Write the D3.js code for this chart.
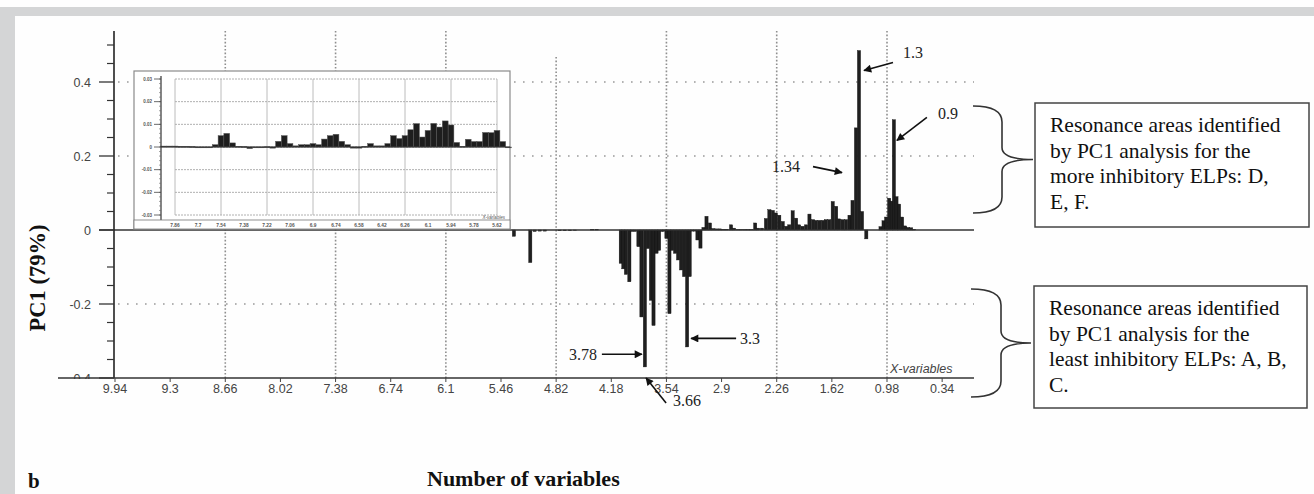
<!DOCTYPE html>
<html>
<head>
<meta charset="utf-8">
<script src="https://cdn.jsdelivr.net/npm/d3@7"></script>
<style>
  body { margin: 0; background: #fff; }
  .sans { font-family: "Liberation Sans", Arial, sans-serif; }
  .serif { font-family: "Liberation Serif", "Times New Roman", serif; }
</style>
</head>
<body>
<svg width="1314" height="494"></svg>
<script>
// ---- data ----
const xTickValues = [9.94, 9.3, 8.66, 8.02, 7.38, 6.74, 6.1, 5.46, 4.82, 4.18, 3.54, 2.9, 2.26, 1.62, 0.98, 0.34];
const xGridValues = [8.66, 7.38, 6.1, 4.82, 3.54, 2.26, 0.98];
const yTickValues = [0.4, 0.2, 0, -0.2, -0.4];
const yGridValues = [0.4, 0.2, -0.2];

// main loadings (chemical shift in ppm, PC1 loading)
const mainShift = [
  5.31, 5.12, 5.07, 5.01, 4.95, 4.78, 4.72, 4.66, 4.60, 4.40, 4.35,
  4.07, 4.04, 4.01, 3.97, 3.94, 3.905, 3.865, 3.83, 3.79, 3.755,
  3.72, 3.69, 3.655, 3.625, 3.59, 3.565, 3.54, 3.505, 3.475, 3.44,
  3.405, 3.37, 3.335, 3.30, 3.27, 3.24, 3.21, 3.18, 3.145,
  3.11, 3.075, 3.035, 2.995, 2.955, 2.92, 2.88, 2.84, 2.79, 2.755,
  2.715, 2.675, 2.635, 2.595, 2.555, 2.51, 2.475, 2.43, 2.385, 2.345,
  2.305, 2.27, 2.23, 2.19, 2.15, 2.115, 2.075, 2.035, 2.0, 1.96,
  1.92, 1.88, 1.84, 1.805, 1.765, 1.725, 1.69, 1.65, 1.61, 1.57,
  1.535, 1.495, 1.455, 1.415, 1.38, 1.34, 1.305, 1.27, 1.22,
  1.055, 1.02, 0.99, 0.955, 0.925, 0.90, 0.87, 0.84, 0.805, 0.77,
  0.735, 0.70, 0.665
];
const mainLoading = [
  -0.017, -0.088, -0.004, -0.003, -0.003, -0.002, -0.002, -0.002, -0.001, 0.002, 0.002,
  -0.09, -0.105, -0.12, -0.14, -0.004, -0.004, -0.045, -0.235, -0.37, -0.05,
  -0.19, -0.258, -0.063, -0.055, -0.004, -0.003, -0.023, -0.226, -0.055, -0.063,
  -0.081, -0.108, -0.126, -0.316, -0.126, -0.003, -0.003, -0.027, -0.049,
  0.007, 0.037, 0.019, 0.004, 0.003, 0.003, 0.002, 0.002, 0.014, 0.005,
  0.001, 0.001, 0.001, 0.001, 0.001, 0.019, 0.005, 0.005, 0.031, 0.055,
  0.053, 0.046, 0.04, 0.023, 0.01, 0.014, 0.052, 0.032, 0.014, 0.01,
  0.014, 0.043, 0.028, 0.026, 0.026, 0.026, 0.028, 0.028, 0.077, 0.064,
  0.03, 0.028, 0.028, 0.04, 0.08, 0.276, 0.485, 0.05, -0.024,
  0.009, 0.025, 0.035, 0.086, 0.078, 0.298, 0.09, 0.07, 0.035, 0.011,
  0.007, 0.006, 0.002
];

// inset (zoom on 7.9 - 5.5 ppm)
const insetTickValues = [7.86, 7.7, 7.54, 7.38, 7.22, 7.06, 6.9, 6.74, 6.58, 6.42, 6.26, 6.1, 5.94, 5.78, 5.62];
const insetGridValues = [7.86, 7.54, 7.22, 6.9, 6.58, 6.26, 5.94, 5.62];
const insetYTicks = [0.03, 0.02, 0.01, 0, -0.01, -0.02, -0.03];
const insetShift = [
  7.94, 7.90, 7.86, 7.82, 7.78, 7.74, 7.70, 7.66, 7.62, 7.58,
  7.54, 7.50, 7.46, 7.42, 7.38, 7.34, 7.30, 7.26, 7.22, 7.18,
  7.14, 7.10, 7.06, 7.02, 6.98, 6.94, 6.90, 6.86, 6.82, 6.78,
  6.74, 6.70, 6.66, 6.62, 6.58, 6.54, 6.50, 6.46, 6.42, 6.38,
  6.34, 6.30, 6.26, 6.22, 6.18, 6.14, 6.10, 6.06, 6.02, 5.98,
  5.94, 5.90, 5.86, 5.82, 5.78, 5.74, 5.70, 5.66, 5.62, 5.58,
  5.54
];
const insetLoading = [
  0.0004, 0.0004, 0.0004, 0.0003, 0.0003, 0.0002, -0.0003, -0.0003, -0.0002, 0.001,
  0.005, 0.006, 0.0018, 0.0003, 0.0002, -0.0007, 0.0, 0.0, 0.0001, -0.0005,
  0.0025, 0.005, 0.0015, 0.0005, 0.001, 0.001, 0.0015, 0.001, 0.0035, 0.005,
  0.0056, 0.0025, 0.001, -0.0005, -0.0005, 0.0003, 0.0015, 0.0005, 0.0005, 0.0015,
  0.005, 0.0037, 0.005, 0.0076, 0.0103, 0.0044, 0.0073, 0.0104, 0.0088, 0.0115,
  0.0097, 0.002, 0.0003, 0.0034, 0.0024, 0.0024, 0.0064, 0.0063, 0.0073, 0.0024,
  -0.0003
];

// annotated peaks
const peakLabels = ["1.3", "1.34", "0.9", "3.78", "3.3", "3.66"];
const peakShift = [1.305, 1.34, 0.9, 3.79, 3.30, 3.66];
const peakTipLoad = [0.431, 0.155, 0.242, -0.336, -0.293, -0.40];

const boxLines = [
  ["Resonance areas identified", "by PC1 analysis for the", "more inhibitory ELPs: D,", "E, F."],
  ["Resonance areas identified", "by PC1 analysis for the", "least inhibitory ELPs: A, B,", "C."]
];

// ---- layout ----
const svg = d3.select("svg");
const width = +svg.attr("width");
const height = +svg.attr("height");

const x = d3.scaleLinear().domain([9.94, 0.98]).range([115, 887]);
const y = d3.scaleLinear().domain([0.4, -0.4]).range([82, 378]);
const xLeft = 58, xRight = 974, yTop = 31;

svg.append("rect").attr("width", width).attr("height", height).attr("fill", "#fefefe");
// grey frame of the figure
svg.append("rect").attr("x", 0).attr("y", 7).attr("width", width).attr("height", 9).attr("fill", "#d4d5d6");
svg.append("rect").attr("x", 0).attr("y", 7).attr("width", 15).attr("height", height - 7).attr("fill", "#d4d5d6");

const defs = svg.append("defs");
defs.append("marker")
  .attr("id", "arrow")
  .attr("viewBox", "0 0 10 10")
  .attr("refX", 9).attr("refY", 5)
  .attr("markerWidth", 11).attr("markerHeight", 8)
  .attr("markerUnits", "userSpaceOnUse")
  .attr("orient", "auto")
  .append("path").attr("d", "M0,0 L10,5 L0,10 Z").attr("fill", "#111");

// gridlines
const grid = svg.append("g");
grid.selectAll(".vgrid")
  .data(xGridValues)
  .enter().append("line")
  .attr("x1", d => x(d)).attr("x2", d => x(d))
  .attr("y1", d => d === 4.82 ? 57 : yTop).attr("y2", y(-0.4))
  .attr("stroke", "#8e8e8e").attr("stroke-width", 1.6)
  .attr("stroke-dasharray", "1.6,2");
grid.selectAll(".hgrid")
  .data(yGridValues)
  .enter().append("line")
  .attr("x1", 118).attr("x2", xRight)
  .attr("y1", d => y(d)).attr("y2", d => y(d))
  .attr("stroke", "#9a9a9a").attr("stroke-width", 1.6)
  .attr("stroke-dasharray", "1.6,7.4");

// main bars
const barW = 0.037;
svg.append("g").selectAll("rect")
  .data(mainShift.map((s, i) => ({ s, v: mainLoading[i] })))
  .enter().append("rect")
  .attr("x", d => x(d.s + barW / 2))
  .attr("width", d => x(d.s - barW / 2) - x(d.s + barW / 2))
  .attr("y", d => Math.min(y(d.v), y(0)))
  .attr("height", d => Math.abs(y(d.v) - y(0)))
  .attr("fill", "#1f1f1f")
  .attr("stroke", "#111").attr("stroke-width", 0.4);

// zero line
svg.append("line")
  .attr("x1", 99).attr("x2", xRight)
  .attr("y1", y(0)).attr("y2", y(0))
  .attr("stroke", "#333").attr("stroke-width", 1.3);

// y axis with major and minor ticks
svg.append("line")
  .attr("x1", 114).attr("x2", 114).attr("y1", yTop).attr("y2", y(-0.4))
  .attr("stroke", "#222").attr("stroke-width", 1.6);
const minorY = [0.5, 0.45, 0.35, 0.3, 0.25, 0.15, 0.1, 0.05, -0.05, -0.1, -0.15, -0.25, -0.3, -0.35];
svg.append("g").selectAll("line")
  .data(minorY).enter().append("line")
  .attr("x1", 107).attr("x2", 114)
  .attr("y1", d => y(d)).attr("y2", d => y(d))
  .attr("stroke", "#333").attr("stroke-width", 1.2);
svg.append("g").selectAll("line")
  .data(yTickValues).enter().append("line")
  .attr("x1", 99).attr("x2", 114)
  .attr("y1", d => y(d)).attr("y2", d => y(d))
  .attr("stroke", "#333").attr("stroke-width", 1.3);
svg.append("g").selectAll("text")
  .data(yTickValues).enter().append("text")
  .attr("class", "sans")
  .attr("x", 91).attr("y", d => y(d) + 4.5)
  .attr("text-anchor", "end")
  .attr("font-size", 12.5).attr("fill", "#444")
  .text(d => d === 0 ? "0" : d3.format(".1f")(d).replace("−", "-"));

// ---- inset ----
const inset = svg.append("g");
const xi = d3.scaleLinear().domain([7.86, 5.62]).range([175, 497]);
const yi = d3.scaleLinear().domain([0.03, -0.03]).range([79, 215]);
inset.append("rect")
  .attr("x", 134).attr("y", 71).attr("width", 376).attr("height", 158)
  .attr("fill", "#fff").attr("stroke", "#8a8a8a").attr("stroke-width", 1.2);
inset.selectAll(".ig")
  .data(insetGridValues).enter().append("line")
  .attr("x1", d => xi(d)).attr("x2", d => xi(d))
  .attr("y1", yi(0.03)).attr("y2", yi(-0.03))
  .attr("stroke", "#bcbcbc").attr("stroke-width", 1);
inset.selectAll(".ih")
  .data(insetYTicks).enter().append("line")
  .attr("x1", xi(7.86)).attr("x2", xi(5.62))
  .attr("y1", d => yi(d)).attr("y2", d => yi(d))
  .attr("stroke", "#b0b0b0").attr("stroke-width", 1)
  .attr("stroke-dasharray", "2,1");
const insetBarW = 0.04;
inset.selectAll(".ib")
  .data(insetShift.map((s, i) => ({ s, v: insetLoading[i] })))
  .enter().append("rect")
  .attr("x", d => xi(d.s + insetBarW / 2))
  .attr("width", d => xi(d.s - insetBarW / 2) - xi(d.s + insetBarW / 2))
  .attr("y", d => Math.min(yi(d.v), yi(0)))
  .attr("height", d => Math.max(0.8, Math.abs(yi(d.v) - yi(0))))
  .attr("fill", "#1e1e1e")
  .attr("stroke", "#555").attr("stroke-width", 0.5);
inset.append("line")
  .attr("x1", 161).attr("x2", 510).attr("y1", yi(0)).attr("y2", yi(0))
  .attr("stroke", "#333").attr("stroke-width", 1);
inset.append("line")
  .attr("x1", 161).attr("x2", 161).attr("y1", 76).attr("y2", 220)
  .attr("stroke", "#333").attr("stroke-width", 1.2);
const insetMinor = d3.range(-0.03, 0.0301, 0.002);
inset.selectAll(".im")
  .data(insetMinor).enter().append("line")
  .attr("x1", 159).attr("x2", 161)
  .attr("y1", d => yi(d)).attr("y2", d => yi(d))
  .attr("stroke", "#666").attr("stroke-width", 0.6);
inset.selectAll(".it")
  .data(insetYTicks).enter().append("line")
  .attr("x1", 154).attr("x2", 161)
  .attr("y1", d => yi(d)).attr("y2", d => yi(d))
  .attr("stroke", "#444").attr("stroke-width", 0.8);
inset.selectAll(".itl")
  .data(insetYTicks).enter().append("text")
  .attr("class", "sans")
  .attr("x", 152).attr("y", d => yi(d) + 1.6)
  .attr("text-anchor", "end")
  .attr("font-size", 4.5).attr("font-weight", "bold").attr("fill", "#555")
  .text(d => d === 0 ? "0" : String(d));
// inset bottom strip
inset.append("rect")
  .attr("x", 134).attr("y", 220).attr("width", 376).attr("height", 9)
  .attr("fill", "#fff").attr("stroke", "#777").attr("stroke-width", 0.8);
inset.selectAll(".ixt")
  .data(insetTickValues).enter().append("text")
  .attr("class", "sans")
  .attr("x", d => xi(d)).attr("y", 226.8)
  .attr("text-anchor", "middle")
  .attr("font-size", 4.8).attr("font-weight", "bold").attr("fill", "#555")
  .text(d => String(d));
inset.append("text")
  .attr("class", "sans")
  .attr("x", 505).attr("y", 219)
  .attr("text-anchor", "end")
  .attr("font-size", 4.5).attr("font-style", "italic").attr("fill", "#555")
  .text("X-variables");

// ---- x axis ----
svg.append("rect")
  .attr("x", xLeft).attr("y", y(-0.4) + 1).attr("width", xRight - xLeft).attr("height", 18)
  .attr("fill", "#fefefe");
svg.append("line")
  .attr("x1", xLeft).attr("x2", xRight).attr("y1", y(-0.4)).attr("y2", y(-0.4))
  .attr("stroke", "#333").attr("stroke-width", 1.5);
svg.append("g").selectAll("line")
  .data(xTickValues).enter().append("line")
  .attr("x1", d => x(d)).attr("x2", d => x(d))
  .attr("y1", y(-0.4)).attr("y2", y(-0.4) + 4)
  .attr("stroke", "#444").attr("stroke-width", 1);
svg.append("g").selectAll("text")
  .data(xTickValues).enter().append("text")
  .attr("class", "sans")
  .attr("x", d => x(d)).attr("y", y(-0.4) + 15)
  .attr("text-anchor", "middle")
  .attr("font-size", 12.5).attr("fill", "#444")
  .text(d => String(d));
svg.append("text")
  .attr("class", "sans")
  .attr("x", 890).attr("y", 373)
  .attr("font-size", 12.5).attr("font-style", "italic").attr("fill", "#444")
  .text("X-variables");

// ---- annotations ----
const peakLayout = [
  { dx: 5,   tail: [29, -8],   text: [39, -13], anchor: "start" },
  { dx: -14, tail: [-29, -6],  text: [-42, -1], anchor: "end" },
  { dx: 3,   tail: [30, -23],  text: [41, -21], anchor: "start" },
  { dx: -3,  tail: [-40, 0],   text: [-45, 6],  anchor: "end" },
  { dx: 4,   tail: [45, 0],    text: [49, 6],   anchor: "start" },
  { dx: -10, tail: [20, 25],   text: [27, 28],  anchor: "start" }
];
const notes = svg.append("g");
peakLabels.forEach((label, i) => {
  const tx = x(peakShift[i]) + peakLayout[i].dx;
  const ty = y(peakTipLoad[i]);
  const L = peakLayout[i];
  notes.append("line")
    .attr("x1", tx + L.tail[0]).attr("y1", ty + L.tail[1])
    .attr("x2", tx).attr("y2", ty)
    .attr("stroke", "#111").attr("stroke-width", 1.6)
    .attr("marker-end", "url(#arrow)");
  notes.append("text")
    .attr("class", "serif")
    .attr("x", tx + L.text[0]).attr("y", ty + L.text[1])
    .attr("text-anchor", L.anchor)
    .attr("font-size", 16).attr("fill", "#222")
    .text(label);
});

// braces + boxes
const braces = [
  { x0: 973, xm: 1002, xt: 1033, y0: 106, y1: 213 },
  { x0: 971, xm: 1001, xt: 1031, y0: 289, y1: 397 }
];
const boxes = [
  { x: 1035, y: 103, w: 274, h: 124 },
  { x: 1034, y: 286, w: 273, h: 122 }
];
braces.forEach(b => {
  const ym = (b.y0 + b.y1) / 2;
  const p = d3.path();
  p.moveTo(b.x0, b.y0);
  p.quadraticCurveTo(b.xm, b.y0, b.xm, b.y0 + 16);
  p.lineTo(b.xm, ym - 12);
  p.quadraticCurveTo(b.xm, ym, b.xt, ym);
  p.quadraticCurveTo(b.xm, ym, b.xm, ym + 12);
  p.lineTo(b.xm, b.y1 - 16);
  p.quadraticCurveTo(b.xm, b.y1, b.x0, b.y1);
  svg.append("path").attr("d", p.toString())
    .attr("fill", "none").attr("stroke", "#333").attr("stroke-width", 1.6);
});
boxes.forEach((b, i) => {
  svg.append("rect")
    .attr("x", b.x).attr("y", b.y).attr("width", b.w).attr("height", b.h)
    .attr("fill", "#fff").attr("stroke", "#444").attr("stroke-width", 1.5);
  svg.append("g").selectAll("text")
    .data(boxLines[i]).enter().append("text")
    .attr("class", "serif")
    .attr("x", b.x + 15).attr("y", (d, j) => b.y + 29 + j * 25.7)
    .attr("font-size", 21.5).attr("fill", "#111")
    .text(d => d);
});

// ---- titles ----
svg.append("text")
  .attr("class", "serif")
  .attr("transform", "translate(37,278) rotate(-90)")
  .attr("text-anchor", "middle").attr("dominant-baseline", "central")
  .attr("font-size", 22.5).attr("font-weight", "bold").attr("fill", "#111")
  .text("PC1 (79%)");
svg.append("text")
  .attr("class", "serif")
  .attr("x", 28).attr("y", 488)
  .attr("font-size", 21).attr("font-weight", "bold").attr("fill", "#111")
  .text("b");
svg.append("text")
  .attr("class", "serif")
  .attr("x", 427).attr("y", 486)
  .attr("font-size", 22).attr("font-weight", "bold").attr("fill", "#111")
  .text("Number of variables");
</script>
</body>
</html>
